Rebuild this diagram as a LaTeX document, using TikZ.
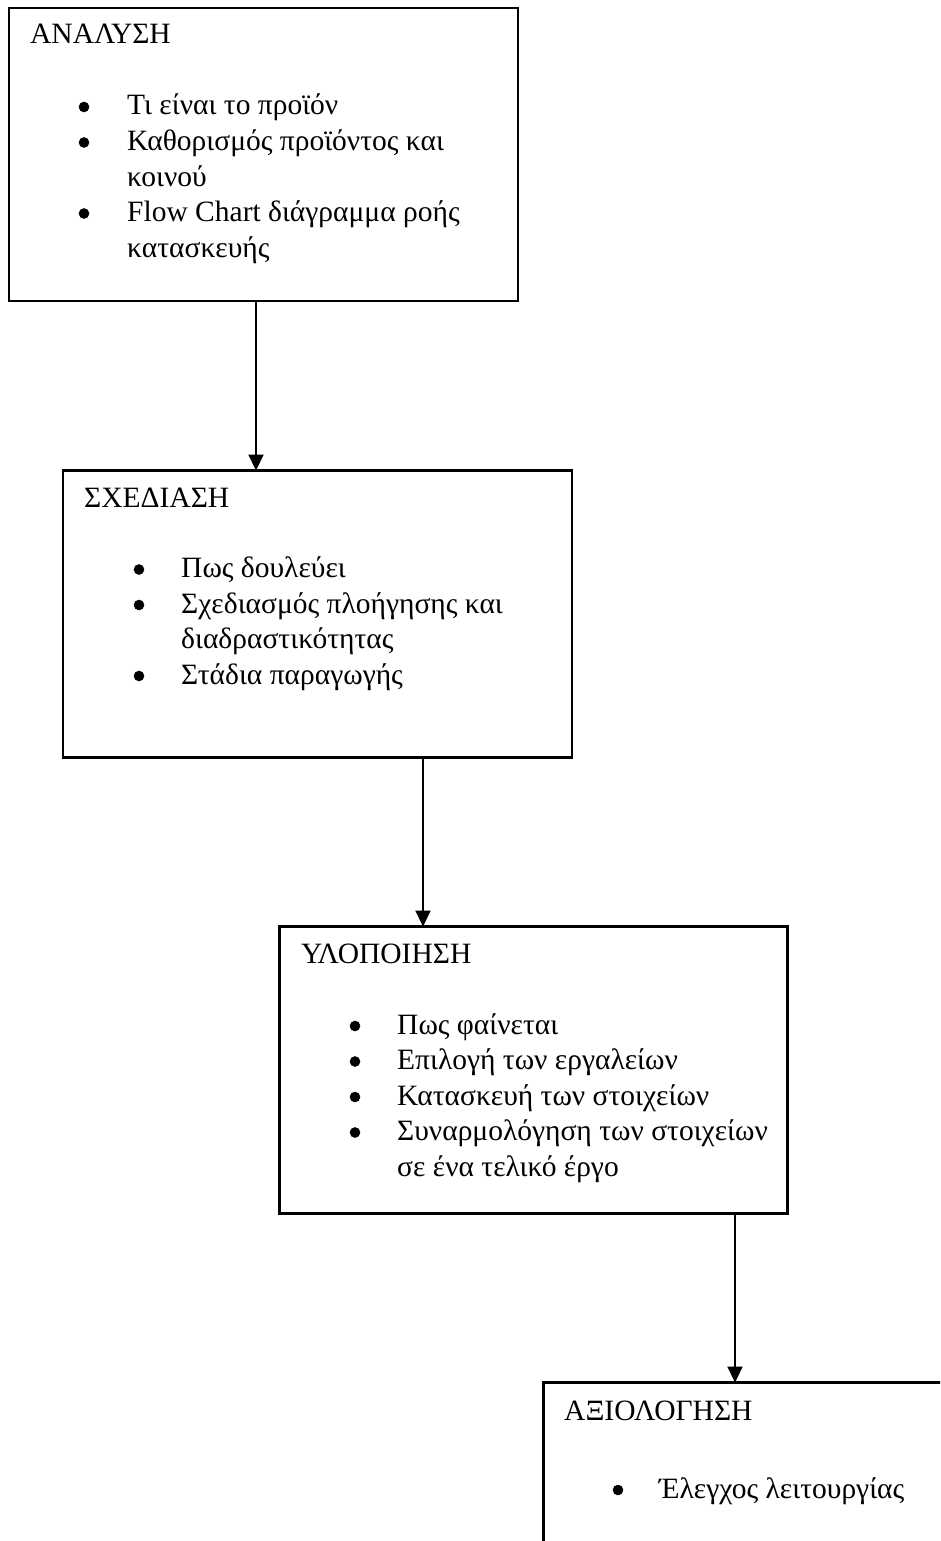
\documentclass[tikz,border=0pt]{standalone}
\usepackage{fontspec}
\setmainfont{Liberation Serif}
\usetikzlibrary{arrows.meta}
\begin{document}
\begin{tikzpicture}[x=1pt,y=-1pt,
  box/.style={draw, line width=2.2pt, anchor=north west, inner sep=0pt, outer sep=0pt},
  txt/.style={anchor=base west, inner sep=0pt, font=\fontsize{29.5}{35.5}\selectfont},
  bul/.style={circle, fill=black, draw=black, line width=0.5pt, inner sep=0pt, minimum size=10pt, yshift=8pt},
  arr/.style={line width=2.2pt, -{Triangle[width=15pt,length=16pt]}}]
\clip (0,0) rectangle (940,1541);
% boxes
\node[box, minimum width=509pt, minimum height=293pt] (b1) at (9,8) {};
\node[box, minimum width=509pt, minimum height=287pt] (b2) at (63,470.5) {};
\node[box, minimum width=508pt, minimum height=287pt] (b3) at (279.5,926.5) {};
\node[box, minimum width=500pt, minimum height=300pt] (b4) at (543.5,1382.5) {};
% box 1
\node[txt] (t1) at (30,44) {ΑΝΑΛΥΣΗ};
\node[bul] (p11) at (84,115) {};
\node[txt] (l11) at (127,115) {Τι είναι το προϊόν};
\node[bul] (p12) at (84,150.5) {};
\node[txt] (l12) at (127,150.5) {Καθορισμός προϊόντος και};
\node[txt] (l12b) at (127,186) {κοινού};
\node[bul] (p13) at (84,221.5) {};
\node[txt] (l13) at (127,221.5) {Flow Chart διάγραμμα ροής};
\node[txt] (l13b) at (127,257) {κατασκευής};
% box 2
\node[txt] (t2) at (84,507) {ΣΧΕΔΙΑΣΗ};
\node[bul] (p21) at (139,577.5) {};
\node[txt] (l21) at (181,577.5) {Πως δουλεύει};
\node[bul] (p22) at (139,613) {};
\node[txt] (l22) at (181,613) {Σχεδιασμός πλοήγησης και};
\node[txt] (l22b) at (181,648.5) {διαδραστικότητας};
\node[bul] (p23) at (139,684) {};
\node[txt] (l23) at (181,684) {Στάδια παραγωγής};
% box 3
\node[txt] (t3) at (301,963) {ΥΛΟΠΟΙΗΣΗ};
\node[bul] (p31) at (355,1034) {};
\node[txt] (l31) at (397,1034) {Πως φαίνεται};
\node[bul] (p32) at (355,1069.5) {};
\node[txt] (l32) at (397,1069.5) {Επιλογή των εργαλείων};
\node[bul] (p33) at (355,1105) {};
\node[txt] (l33) at (397,1105) {Κατασκευή των στοιχείων};
\node[bul] (p34) at (355,1140.5) {};
\node[txt] (l34) at (397,1140.5) {Συναρμολόγηση των στοιχείων};
\node[txt] (l34b) at (397,1176) {σε ένα τελικό έργο};
% box 4
\node[txt] (t4) at (564,1420) {ΑΞΙΟΛΟΓΗΣΗ};
\node[bul] (p41) at (618,1498) {};
\node[txt] (l41) at (659,1498) {Έλεγχος λειτουργίας};
% connectors
\coordinate (a1) at (256,0);
\coordinate (a2) at (423,0);
\coordinate (a3) at (735,0);
\draw[arr] (b1.south -| a1) -- (b2.north -| a1);
\draw[arr] (b2.south -| a2) -- (b3.north -| a2);
\draw[arr] (b3.south -| a3) -- (b4.north -| a3);
\end{tikzpicture}
\end{document}
